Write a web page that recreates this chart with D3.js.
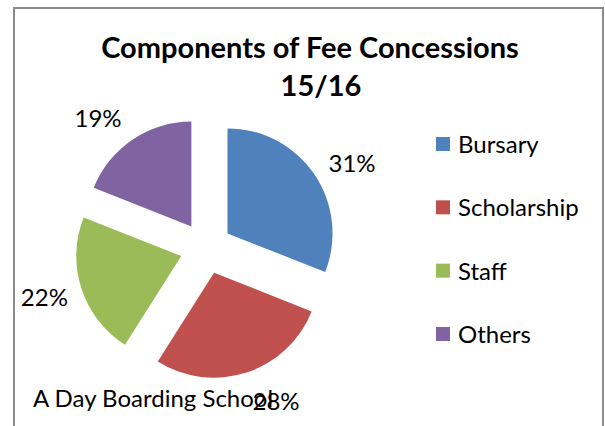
<!DOCTYPE html>
<meta charset="utf-8">
<style>
  body { margin: 0; background: #fff; }
  text { font-family: Lato, "Open Sans", sans-serif; fill: #000; }
  .title { font-weight: bold; font-size: 29px; }
  .lbl { font-size: 24px; }
  .legend text { font-size: 24px; }
</style>
<body></body>
<script src="https://d3js.org/d3.v7.min.js"></script>
<script>
var categories = ["Bursary", "Scholarship", "Staff", "Others"];
var values = [31, 28, 22, 19];
var labels = ["31%", "28%", "22%", "19%"];
var colors = ["#4f81bd", "#c0504d", "#9bbb59", "#8064a2"];

var W = 605, H = 426;
var svg = d3.select("body").append("svg")
    .attr("width", W)
    .attr("height", H);

// chart frame
svg.append("rect")
    .attr("x", 14).attr("y", 8)
    .attr("width", 589).attr("height", 440)
    .attr("fill", "#fff")
    .attr("stroke", "#8c8c8c")
    .attr("stroke-width", 2);

svg.append("text").attr("class", "title")
    .attr("x", 310).attr("y", 58)
    .attr("text-anchor", "middle")
    .text("Components of Fee Concessions");
svg.append("text").attr("class", "title")
    .attr("x", 321).attr("y", 96)
    .attr("text-anchor", "middle")
    .text("15/16");

var cx = 206, cy = 248, r = 105, explode = 26;

var pie = d3.pie().sort(null).value(function(d) { return d; });
var arcs = pie(values);
var arc = d3.arc().innerRadius(0).outerRadius(r);

var g = svg.append("g").attr("transform", "translate(" + cx + "," + cy + ")");

g.selectAll("path")
    .data(arcs)
    .enter().append("path")
    .attr("d", arc)
    .attr("fill", function(d, i) { return colors[i]; })
    .attr("transform", function(d) {
        var a = (d.startAngle + d.endAngle) / 2;
        return "translate(" + (Math.sin(a) * explode) + "," + (-Math.cos(a) * explode) + ")";
    });

// percentage labels outside each slice (small angle nudges, in degrees)
var labelR = 169;
var nudge = [4, -6.5, 1, -5.5];
function labelAngle(d, i) { return (d.startAngle + d.endAngle) / 2 + nudge[i] * Math.PI / 180; }
g.selectAll("text.lbl")
    .data(arcs)
    .enter().append("text")
    .attr("class", "lbl")
    .attr("text-anchor", "middle")
    .attr("dy", "0.36em")
    .attr("x", function(d, i) { return Math.sin(labelAngle(d, i)) * labelR; })
    .attr("y", function(d, i) { return -Math.cos(labelAngle(d, i)) * labelR; })
    .text(function(d, i) { return labels[i]; });

svg.append("text").attr("class", "lbl")
    .attr("x", 33).attr("y", 407)
    .text("A Day Boarding School");

var legend = svg.append("g").attr("class", "legend");
var ly = d3.scalePoint().domain(categories).range([144, 334]);
var item = legend.selectAll("g")
    .data(categories)
    .enter().append("g")
    .attr("transform", function(d) { return "translate(436," + ly(d) + ")"; });
item.append("rect")
    .attr("x", 0).attr("y", -7)
    .attr("width", 14).attr("height", 14)
    .attr("fill", function(d, i) { return colors[i]; });
item.append("text")
    .attr("x", 22).attr("y", 9)
    .text(function(d) { return d; });
</script>
